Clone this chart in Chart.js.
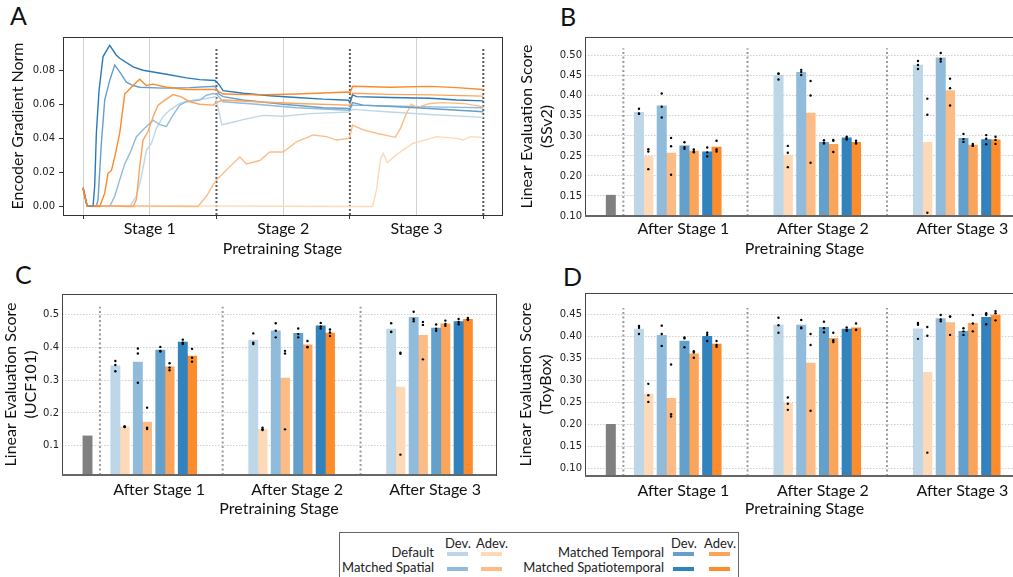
<!DOCTYPE html>
<html>
<head>
<meta charset="utf-8">
<script src="https://cdn.jsdelivr.net/npm/chart.js@4.4.0/dist/chart.umd.min.js"></script>
<style>
html, body { margin: 0; padding: 0; background: #fff; width: 1013px; height: 577px; overflow: hidden; position: relative; }
canvas { position: absolute; }
.letter { position: absolute; font-family: Lato; font-size: 25px; line-height: 25px; color: #111; }
#legend { position: absolute; left: 339px; top: 532px; width: 400px; height: 60px; border: 1px solid #666; box-sizing: border-box; font-family: Lato; font-size: 13px; color: #222; }
#legend div { position: absolute; line-height: 14px; white-space: nowrap; }
</style>
</head>
<body>
<div class="letter" style="left:10px;top:3px">A</div>
<div class="letter" style="left:560px;top:4px">B</div>
<div class="letter" style="left:15px;top:262px">C</div>
<div class="letter" style="left:563px;top:264px">D</div>

<canvas id="chartA" width="512" height="258" style="left:0;top:0"></canvas>
<canvas id="chartB" width="540" height="258" style="left:500px;top:0"></canvas>
<canvas id="chartC" width="512" height="262" style="left:0;top:258px"></canvas>
<canvas id="chartD" width="540" height="262" style="left:500px;top:258px"></canvas>
<div id="legend"></div>

<script>
// ---- shared ----
var methods = ['Default', 'Matched Spatial', 'Matched Temporal', 'Matched Spatiotemporal'];
var devColors = ['#bdd7e8', '#91bbda', '#63a0cc', '#3282bd'];
var adevColors = ['#fdd9b8', '#fdbc85', '#fda45b', '#fd8c2d'];
var stageLabels = ['After Stage 1', 'After Stage 2', 'After Stage 3'];

// ---- A: encoder gradient norm, [stage position, value] ----
var gradDefaultDev = [[0,0.011],[0.03,0.0005],[0.35,0],[0.4,0.006],[0.4375,0.0176],[0.475,0.033],[0.5125,0.037],[0.55,0.046],[0.6,0.0527],[0.65,0.0566],[0.725,0.0605],[0.825,0.0624],[0.925,0.0634],[0.99,0.0644],[1.0,0.062],[1.04,0.048],[1.1,0.049],[1.2,0.051],[1.35,0.0535],[1.5,0.053],[1.7,0.0545],[1.99,0.0555],[2.02,0.057],[2.3,0.0555],[2.6,0.054],[3.0,0.0523]];
var gradDefaultAdev = [[0,0.011],[0.03,0.0005],[2.17,0],[2.2,0.01],[2.23,0.028],[2.25,0.0312],[2.28,0.0258],[2.36,0.031],[2.47,0.037],[2.56,0.039],[2.65,0.041],[2.8,0.040],[2.85,0.039],[2.9,0.041],[3.0,0.0406]];
var gradSpatialDev = [[0,0.011],[0.03,0.0005],[0.2,0],[0.2375,0.006],[0.275,0.0156],[0.3125,0.025],[0.35,0.031],[0.4,0.041],[0.45,0.045],[0.525,0.0507],[0.575,0.048],[0.625,0.047],[0.675,0.0537],[0.725,0.0595],[0.775,0.0615],[0.875,0.0624],[0.925,0.0653],[0.975,0.0663],[1.0,0.066],[1.05,0.0615],[1.3,0.060],[1.6,0.058],[1.99,0.0565],[2.02,0.0595],[2.3,0.059],[2.6,0.0585],[3.0,0.058]];
var gradSpatialAdev = [[0,0.011],[0.03,0.0005],[0.86,0],[0.925,0.006],[0.975,0.0127],[1.0,0.0156],[1.1,0.0234],[1.175,0.029],[1.225,0.025],[1.325,0.027],[1.4,0.032],[1.5,0.032],[1.6,0.038],[1.725,0.042],[1.825,0.041],[1.9,0.039],[1.99,0.040],[2.0,0.041],[2.02,0.0478],[2.1,0.045],[2.2,0.043],[2.34,0.0406],[2.38,0.046],[2.42,0.054],[2.46,0.060],[2.5,0.058],[2.6,0.0605],[2.7,0.061],[2.85,0.0605],[3.0,0.0585]];
var gradTemporalDev = [[0,0.011],[0.03,0.0005],[0.1,0],[0.1125,0.004],[0.1375,0.037],[0.1625,0.0624],[0.2,0.074],[0.2375,0.083],[0.275,0.079],[0.325,0.073],[0.375,0.071],[0.425,0.070],[0.6,0.0695],[0.8,0.0698],[0.99,0.0706],[1.02,0.066],[1.05,0.0645],[1.2,0.0625],[1.5,0.060],[1.8,0.058],[1.99,0.0575],[2.0,0.057],[2.02,0.061],[2.1,0.0595],[2.5,0.058],[3.0,0.0556]];
var gradTemporalAdev = [[0,0.011],[0.03,0.0005],[0.375,0],[0.4,0.004],[0.425,0.0234],[0.45,0.039],[0.4875,0.044],[0.525,0.0527],[0.5625,0.0595],[0.6125,0.0624],[0.675,0.0657],[0.7375,0.0644],[0.8,0.0615],[0.875,0.060],[0.975,0.0595],[1.0,0.061],[1.05,0.0625],[1.3,0.0615],[1.6,0.0605],[1.99,0.0595],[2.0,0.059],[2.02,0.0665],[2.3,0.0658],[2.6,0.0655],[3.0,0.0648]];
var gradSpatioTemporalDev = [[0,0.011],[0.03,0.0005],[0.075,0],[0.0875,0.012],[0.1,0.043],[0.12,0.068],[0.15,0.088],[0.2,0.0946],[0.25,0.0888],[0.275,0.087],[0.375,0.082],[0.45,0.080],[0.625,0.0776],[0.775,0.0755],[0.875,0.0745],[0.99,0.074],[1.02,0.0715],[1.05,0.068],[1.2,0.0665],[1.4,0.065],[1.6,0.064],[1.8,0.063],[1.99,0.0624],[2.0,0.061],[2.02,0.0655],[2.05,0.0645],[2.3,0.064],[2.6,0.0635],[2.8,0.0625],[3.0,0.062]];
var gradSpatioTemporalAdev = [[0,0.011],[0.03,0.0005],[0.125,0],[0.1625,0.0078],[0.1875,0.0195],[0.2125,0.021],[0.2375,0.029],[0.275,0.043],[0.3125,0.066],[0.35,0.069],[0.4,0.073],[0.425,0.0747],[0.475,0.071],[0.525,0.0718],[0.625,0.070],[0.775,0.0687],[0.99,0.0687],[1.05,0.066],[1.3,0.0655],[1.6,0.066],[1.99,0.0672],[2.0,0.0665],[2.02,0.0706],[2.3,0.070],[2.6,0.0705],[2.8,0.0698],[3.0,0.0687]];
var gradTicks = [0, 0.02, 0.04, 0.06, 0.08];
var stageGrid = [0, 0.5, 1, 1.5, 2, 2.5, 3];
var stageGridLabels = ['', 'Stage 1', '', 'Stage 2', '', 'Stage 3', ''];
var stageBounds = [1, 2, 3];

// ---- B: SSv2 ----  [method][stage]
var ssv2Baseline = 0.152;
var ssv2Dev = [[0.359, 0.451, 0.477], [0.375, 0.459, 0.495], [0.275, 0.284, 0.294], [0.260, 0.295, 0.291]];
var ssv2Adev = [[0.249, 0.252, 0.284], [0.257, 0.357, 0.413], [0.262, 0.279, 0.277], [0.272, 0.284, 0.290]];
var ssv2DevSeeds = [
  [[0.368,0.356,0.355],[0.456,0.455,0.441],[0.487,0.477,0.467]],
  [[0.406,0.373,0.346],[0.465,0.460,0.452],[0.507,0.492,0.486]],
  [[0.284,0.272,0.268],[0.289,0.283,0.281],[0.305,0.292,0.285]],
  [[0.271,0.259,0.249],[0.298,0.294,0.291],[0.302,0.293,0.279]]];
var ssv2AdevSeeds = [
  [[0.267,0.261,0.217],[0.275,0.258,0.222],[0.393,0.353,0.108]],
  [[0.295,0.274,0.203],[0.437,0.401,0.233],[0.443,0.419,0.376]],
  [[0.266,0.261,0.259],[0.290,0.288,0.260],[0.280,0.276,0.275]],
  [[0.288,0.266,0.261],[0.288,0.283,0.281],[0.298,0.290,0.280]]];
var ssv2Ticks = [0.10, 0.15, 0.20, 0.25, 0.30, 0.35, 0.40, 0.45, 0.50];

// ---- C: UCF101 ----
var ucfBaseline = 0.130;
var ucfDev = [[0.343, 0.422, 0.455], [0.355, 0.450, 0.491], [0.391, 0.442, 0.458], [0.416, 0.465, 0.478]];
var ucfAdev = [[0.158, 0.150, 0.279], [0.172, 0.306, 0.436], [0.340, 0.407, 0.471], [0.373, 0.443, 0.485]];
var ucfDevSeeds = [
  [[0.358,0.346,0.327],[0.442,0.414,0.410],[0.473,0.447,0.446]],
  [[0.396,0.381,0.292],[0.473,0.450,0.430],[0.508,0.486,0.479]],
  [[0.401,0.389,0.387],[0.457,0.440,0.430],[0.469,0.456,0.450]],
  [[0.423,0.414,0.410],[0.474,0.463,0.457],[0.486,0.477,0.470]]];
var ucfAdevSeeds = [
  [[0.159,0.158,0.157],[0.155,0.150,0.148],[0.383,0.380,0.073]],
  [[0.216,0.155,0.151],[0.389,0.381,0.150],[0.477,0.468,0.363]],
  [[0.351,0.338,0.330],[0.419,0.401,0.400],[0.481,0.471,0.465]],
  [[0.395,0.368,0.356],[0.454,0.445,0.434],[0.489,0.485,0.483]]];
var ucfTicks = [0.1, 0.2, 0.3, 0.4, 0.5];

// ---- D: ToyBox ----
var toyBaseline = 0.200;
var toyDev = [[0.416, 0.425, 0.417], [0.402, 0.425, 0.440], [0.389, 0.420, 0.411], [0.400, 0.416, 0.443]];
var toyAdev = [[0.269, 0.248, 0.318], [0.259, 0.339, 0.431], [0.360, 0.395, 0.429], [0.382, 0.419, 0.448]];
var toyDevSeeds = [
  [[0.423,0.419,0.405],[0.442,0.425,0.408],[0.430,0.426,0.394]],
  [[0.424,0.405,0.378],[0.437,0.420,0.418],[0.448,0.438,0.434]],
  [[0.397,0.395,0.375],[0.433,0.418,0.409],[0.418,0.411,0.403]],
  [[0.408,0.403,0.389],[0.420,0.415,0.412],[0.452,0.448,0.427]]];
var toyAdevSeeds = [
  [[0.292,0.266,0.251],[0.261,0.247,0.233],[0.421,0.401,0.136]],
  [[0.336,0.223,0.218],[0.405,0.380,0.231],[0.445,0.444,0.403]],
  [[0.366,0.363,0.351],[0.408,0.391,0.387],[0.448,0.429,0.411]],
  [[0.389,0.380,0.376],[0.429,0.415,0.414],[0.457,0.452,0.436]]];
var toyTicks = [0.10, 0.15, 0.20, 0.25, 0.30, 0.35, 0.40, 0.45];

// bar placement along the stage axis
var stageCenters = [1, 2, 3];
var stageTicks = [1.04, 2.04, 3.04];
var pairStep = 0.163;
var barW = 0.067;
var baselineX = 0.52;
var separatorsX = [0.61, 1.5, 2.5];

var labelFont = { family: 'Lato', size: 16 };
var tickFont = { family: 'DejaVu Sans', size: 10 };

// draws the axes box
var frame = {
  id: 'frame',
  afterDatasetsDraw: function (chart, args, opts) {
    var a = chart.chartArea, ctx = chart.ctx;
    ctx.save();
    ctx.strokeStyle = opts.color || '#333';
    ctx.lineWidth = 1;
    ctx.strokeRect(Math.round(a.left) + 0.5, Math.round(a.top) + 0.5, Math.round(a.right - a.left), Math.round(a.bottom - a.top));
    if (opts.bottomWidth) {
      ctx.lineWidth = opts.bottomWidth;
      ctx.strokeStyle = opts.bottomColor;
      ctx.beginPath();
      ctx.moveTo(a.left, a.bottom);
      ctx.lineTo(a.right, a.bottom);
      ctx.stroke();
    }
    ctx.restore();
  }
};

// ---------- A ----------
var gradSeries = [
  [gradDefaultDev, devColors[0]], [gradDefaultAdev, adevColors[0]],
  [gradSpatialDev, devColors[1]], [gradSpatialAdev, adevColors[1]],
  [gradTemporalDev, devColors[2]], [gradTemporalAdev, adevColors[2]],
  [gradSpatioTemporalDev, '#2a7ab9'], [gradSpatioTemporalAdev, '#fd8a28']
];
var aSets = gradSeries.map(function (s, i) {
  return {
    data: s[0].map(function (p) { return { x: p[0], y: p[1] }; }),
    borderColor: s[1], borderWidth: 1.4, pointRadius: 0, tension: 0, order: 20 - i
  };
});
stageBounds.forEach(function (x) {
  aSets.push({ data: [{ x: x, y: -0.005 }, { x: x, y: 0.0935 }], borderColor: '#5a5a5a', borderWidth: 2, borderDash: [2, 2], pointRadius: 0, order: 30 });
});

new Chart(document.getElementById('chartA'), {
  type: 'line',
  data: { datasets: aSets },
  options: {
    responsive: false, animation: false,
    layout: { padding: { top: 37, right: 10, left: 0, bottom: 0 } },
    plugins: { legend: { display: false }, tooltip: { enabled: false }, frame: { color: '#333' } },
    scales: {
      x: {
        type: 'linear', min: -0.15, max: 3.14,
        afterBuildTicks: function (s) { s.ticks = stageGrid.map(function (v) { return { value: v }; }); },
        afterFit: function (s) { s.height = 43; },
        grid: {
          color: function (c) { return (c.tick && stageBounds.indexOf(c.tick.value) >= 0) ? 'rgba(0,0,0,0)' : '#d2d2d2'; },
          tickColor: function (c) { return (c.tick && c.tick.value % 1 === 0) ? '#333' : 'rgba(0,0,0,0)'; },
          tickLength: 4
        },
        border: { display: false },
        ticks: { font: labelFont, color: '#111', padding: 0, autoSkip: false, maxRotation: 0,
          callback: function (v, i) { return stageGridLabels[i]; } },
        title: { display: true, text: 'Pretraining Stage', font: labelFont, color: '#111', padding: 0 }
      },
      y: {
        min: -0.005, max: 0.0995,
        afterBuildTicks: function (s) { s.ticks = gradTicks.map(function (v) { return { value: v }; }); },
        afterFit: function (s) { s.width = 63; },
        grid: { drawOnChartArea: false, tickLength: 4, tickColor: '#333' },
        border: { display: false },
        ticks: { font: tickFont, color: '#222', padding: 4, callback: function (v) { return v.toFixed(2); } },
        title: { display: true, text: 'Encoder Gradient Norm', font: labelFont, color: '#111', padding: { top: 8, bottom: 0 } }
      }
    }
  },
  plugins: [frame]
});

// ---------- B, C, D ----------
function barPanel(id, p) {
  var datasets = [{ type: 'bar', data: [{ x: baselineX, y: p.baseline }], backgroundColor: '#808080', order: 2 }];
  var seedPts = [];
  methods.forEach(function (name, m) {
    [[p.dev, p.devSeeds, devColors[m], -1], [p.adev, p.adevSeeds, adevColors[m], 1]].forEach(function (v) {
      var xs = stageCenters.map(function (c) { return c + (m - 1.5) * pairStep + v[3] * barW / 2; });
      datasets.push({ type: 'bar', data: xs.map(function (x, s) { return { x: x, y: v[0][m][s] }; }), backgroundColor: v[2], order: 2 });
      xs.forEach(function (x, s) { v[1][m][s].forEach(function (y) { seedPts.push({ x: x, y: y }); }); });
    });
  });
  datasets.push({ type: 'scatter', data: seedPts, pointRadius: 1.2, pointBackgroundColor: '#000', pointBorderWidth: 0, order: 0 });
  separatorsX.forEach(function (x) {
    datasets.push({ type: 'line', data: [{ x: x, y: p.yMin }, { x: x, y: p.sepTop }], borderColor: '#9a9a9a', borderWidth: 2, borderDash: [2, 2.5], pointRadius: 0, order: 3 });
  });

  new Chart(document.getElementById(id), {
    type: 'bar',
    data: { datasets: datasets },
    options: {
      responsive: false, animation: false,
      layout: { padding: { top: p.top, right: 16, left: 0, bottom: 0 } },
      datasets: { bar: { grouped: false, categoryPercentage: 1, barPercentage: 1 } },
      plugins: { legend: { display: false }, tooltip: { enabled: false }, frame: { color: '#444', bottomWidth: 2, bottomColor: '#666' } },
      scales: {
        x: {
          type: 'linear', min: 0.335, max: 3.482, offset: false,
          afterBuildTicks: function (s) { s.ticks = stageTicks.map(function (v) { return { value: v }; }); },
          afterFit: function (s) { s.height = p.xHeight; },
          grid: { display: false, drawTicks: false },
          border: { display: false },
          ticks: { font: labelFont, color: '#111', padding: p.tickPad, autoSkip: false, maxRotation: 0,
            callback: function (v, i) { return stageLabels[i]; } },
          title: { display: true, text: 'Pretraining Stage', font: labelFont, color: '#111', padding: { top: 0, bottom: p.titlePad } }
        },
        y: {
          min: p.yMin, max: p.yMax,
          afterBuildTicks: function (s) { s.ticks = p.ticks.map(function (v) { return { value: v }; }); },
          afterFit: function (s) { s.width = p.yWidth; },
          grid: { color: '#cfcfcf', lineWidth: 1, drawTicks: false },
          border: { display: false, dash: [1.5, 1.5] },
          ticks: { font: tickFont, color: '#222', padding: 3, callback: function (v) { return v.toFixed(p.decimals); } },
          title: { display: true, text: p.title, font: { family: 'Lato', size: 16, lineHeight: 1.3 }, color: '#111', padding: { top: p.titleTop, bottom: 0 } }
        }
      }
    },
    plugins: [frame]
  });
}

barPanel('chartB', { baseline: ssv2Baseline, dev: ssv2Dev, adev: ssv2Adev, devSeeds: ssv2DevSeeds, adevSeeds: ssv2AdevSeeds,
  ticks: ssv2Ticks, decimals: 2, yMin: 0.10, yMax: 0.547, sepTop: 0.519, title: ['Linear Evaluation Score', '(SSv2)'],
  top: 37, xHeight: 42, yWidth: 85, titleTop: 16, tickPad: 3, titlePad: 0 });
barPanel('chartC', { baseline: ucfBaseline, dev: ucfDev, adev: ucfAdev, devSeeds: ucfDevSeeds, adevSeeds: ucfAdevSeeds,
  ticks: ucfTicks, decimals: 1, yMin: 0.011, yMax: 0.562, sepTop: 0.523, title: ['Linear Evaluation Score', '(UCF101)'],
  top: 36, xHeight: 45, yWidth: 62, titleTop: 0, tickPad: 5, titlePad: 2 });
barPanel('chartD', { baseline: toyBaseline, dev: toyDev, adev: toyAdev, devSeeds: toyDevSeeds, adevSeeds: toyAdevSeeds,
  ticks: toyTicks, decimals: 2, yMin: 0.083, yMax: 0.498, sepTop: 0.464, title: ['Linear Evaluation Score', '(ToyBox)'],
  top: 35, xHeight: 44, yWidth: 85, titleTop: 15, tickPad: 5, titlePad: 2 });

// ---------- legend ----------
var legend = document.getElementById('legend');
var legendCols = [{ right: 94, dev: 118, adev: 152, methods: [0, 1] }, { right: 324, dev: 344, adev: 380, methods: [2, 3] }];
var legendRows = [19, 34];
function addText(text, left, top, align) {
  var d = document.createElement('div');
  d.textContent = text;
  d.style.top = (top - 7) + 'px';
  if (align === 'right') { d.style.right = (398 - left) + 'px'; }
  else { d.style.left = left + 'px'; d.style.transform = 'translateX(-50%)'; }
  legend.appendChild(d);
}
function addSwatch(color, center, top) {
  var d = document.createElement('div');
  d.style.left = (center - 11) + 'px';
  d.style.top = (top - 2) + 'px';
  d.style.width = '21px';
  d.style.height = '4px';
  d.style.background = color;
  legend.appendChild(d);
}
legendCols.forEach(function (col) {
  addText('Dev.', col.dev, 10, 'center');
  addText('Adev.', col.adev, 10, 'center');
  col.methods.forEach(function (m, r) {
    addText(methods[m], col.right, legendRows[r], 'right');
    addSwatch(devColors[m], col.dev, legendRows[r] + 2);
    addSwatch(adevColors[m], col.adev, legendRows[r] + 2);
  });
});
</script>
</body>
</html>
